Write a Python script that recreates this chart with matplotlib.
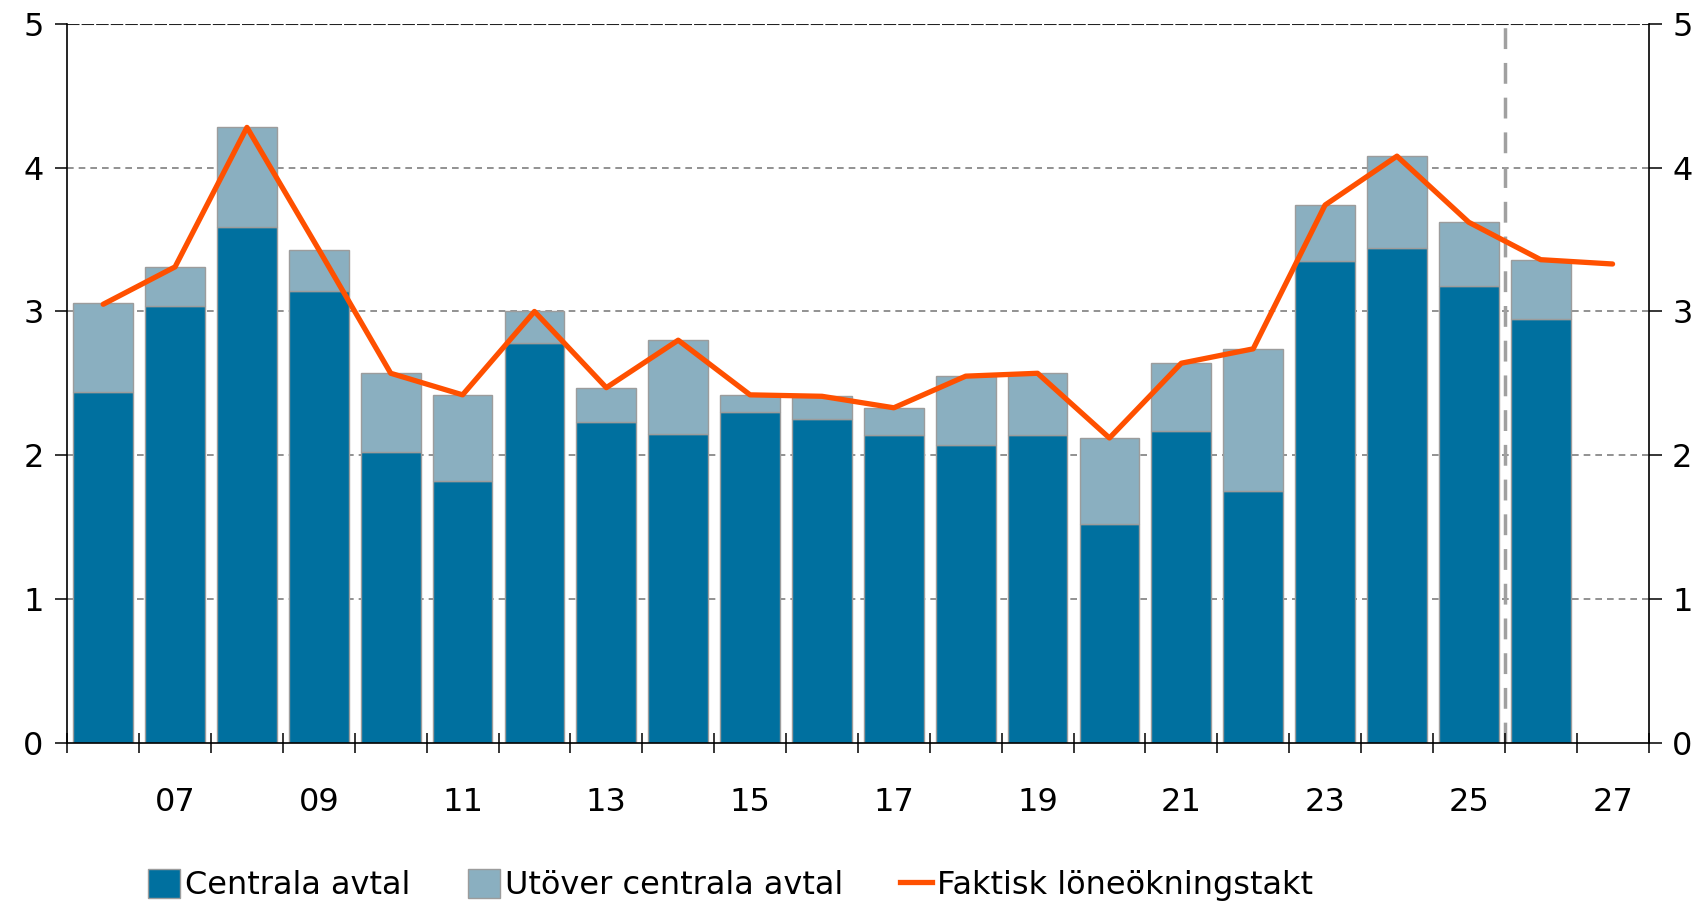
import matplotlib.pyplot as plt
import numpy as np
from matplotlib.patches import Patch
from matplotlib.lines import Line2D

years = np.arange(2006, 2027)
line_years = np.arange(2006, 2028)
central = [2.44, 3.04, 3.59, 3.14, 2.02, 1.82, 2.78, 2.23, 2.15, 2.30, 2.25,
           2.14, 2.07, 2.14, 1.52, 2.17, 1.75, 3.35, 3.44, 3.18, 2.95]
drift = [0.62, 0.27, 0.69, 0.29, 0.55, 0.60, 0.22, 0.24, 0.65, 0.12, 0.16,
         0.19, 0.48, 0.43, 0.60, 0.47, 0.99, 0.39, 0.64, 0.44, 0.41]
actual = [3.05, 3.31, 4.28, 3.43, 2.57, 2.42, 3.00, 2.47, 2.80, 2.42, 2.41,
          2.33, 2.55, 2.57, 2.12, 2.64, 2.74, 3.74, 4.08, 3.62, 3.36, 3.33]
label_years = np.arange(2007, 2028, 2)
labels = [f"{y % 100:02d}" for y in label_years]

dark = '#00709F'
light = '#8AAFC0'
edge = '#9C9C9C'
orange = '#FF5000'
fs = 23

fig = plt.figure(figsize=(17.03, 9.07), dpi=100)
ax = fig.add_axes([0.0395, 0.181, 0.9285, 0.7927])

ax.bar(years, central, width=0.83, color=dark, edgecolor=edge, linewidth=1, zorder=2)
ax.bar(years, drift, bottom=central, width=0.83, color=light, edgecolor=edge,
       linewidth=1, zorder=2)
ax.plot(line_years, actual, color=orange, lw=3.8, zorder=3, solid_capstyle='round')

ax.set_xlim(2005.5, 2027.5)
ax.set_ylim(0, 5)

for y in [1, 2, 3, 4]:
    ax.axhline(y, color='#7F7F7F', lw=1.2, ls=(0, (4, 3)), zorder=1)
ax.axhline(5, color='#222222', lw=1.5, ls=(0, (6, 1)), zorder=1)
ax.axvline(2025.5, color='#A0A0A0', lw=2.5, ls=(0, (6, 4)), zorder=1)

ax.spines['top'].set_visible(False)
for s in ['left', 'right', 'bottom']:
    ax.spines[s].set_linewidth(1.2)

ax.set_xticks(np.arange(2005.5, 2028, 1))
ax.set_xticklabels([])
ax.tick_params(axis='x', which='major', direction='inout', length=15, width=1.1)
ax.set_xticks(label_years, minor=True)
ax.set_xticklabels(labels, minor=True, fontsize=fs)
ax.tick_params(axis='x', which='minor', length=0, pad=32)

ax.set_yticks(range(6))
ax.tick_params(axis='y', which='both', direction='out', length=9, width=1.1,
               labelsize=fs, left=True, right=True, labelleft=True, labelright=True,
               pad=8)

handles = [Patch(facecolor=dark, edgecolor=edge, label='Centrala avtal'),
           Patch(facecolor=light, edgecolor=edge, label='Utöver centrala avtal'),
           Line2D([0], [0], color=orange, lw=3.8, label='Faktisk löneökningstakt')]
fig.legend(handles=handles, loc='center', bbox_to_anchor=(0.429, 0.024), ncol=3,
           frameon=False, fontsize=fs, handlelength=1.0, handleheight=1.0,
           handletextpad=0.15, columnspacing=1.8)

fig.savefig('out.png', dpi=100)
